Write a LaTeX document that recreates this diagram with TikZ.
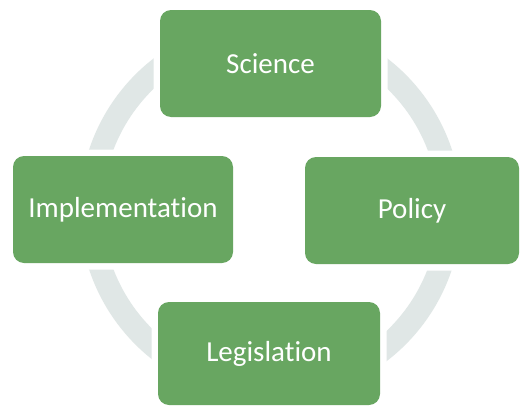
\documentclass[tikz,border=0pt]{standalone}
\usepackage{fontspec}
\setmainfont{Carlito}[Ligatures=NoCommon]
\definecolor{boxgreen}{HTML}{68A661}
\definecolor{ringgray}{HTML}{E0E7E6}
\tikzset{
  stagebox/.style={rectangle, rounded corners=11pt, fill=boxgreen, text=white,
    inner sep=0pt, font=\fontsize{29}{34}\selectfont,
    preaction={draw=white, line width=13pt}},
}
\begin{document}
\begin{tikzpicture}[x=1pt, y=-1pt]
\useasboundingbox[fill=white] (0,0) rectangle (520,407);
\coordinate (c) at (270.5,209.5);
\draw[ringgray, line width=23pt] (c) circle (179.5pt);
\node[stagebox, minimum width=221pt, minimum height=107pt] (science) at (270.5,63.5) {Science};
\node[stagebox, minimum width=220pt, minimum height=107pt] (impl) at (123,209.5) {Implementation};
\node[stagebox, minimum width=214pt, minimum height=107pt] (policy) at (412,210.5) {Policy};
\node[stagebox, minimum width=222pt, minimum height=103pt] (legis) at (269,353.5) {Legislation};
\end{tikzpicture}
\end{document}
